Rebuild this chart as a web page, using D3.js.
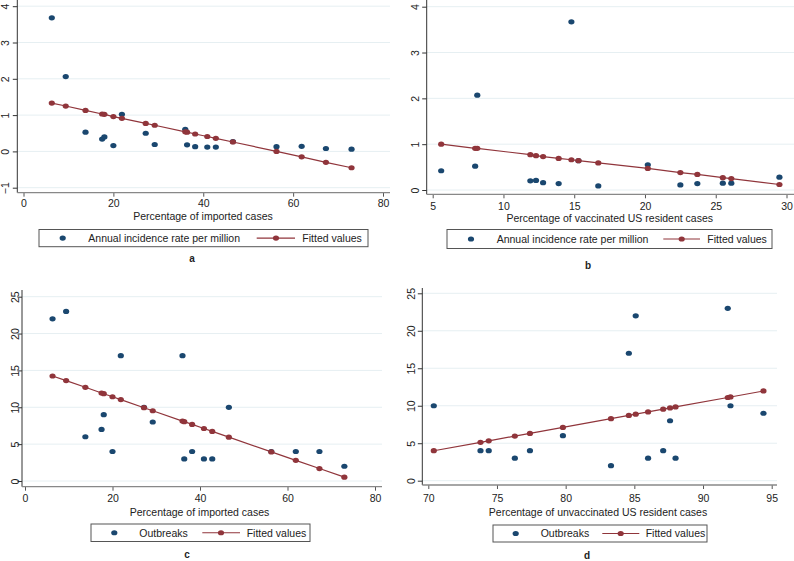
<!DOCTYPE html>
<html><head><meta charset="utf-8">
<script src="https://cdn.jsdelivr.net/npm/d3@7/dist/d3.min.js"></script>
<style>
html,body{margin:0;padding:0;background:#fff;}
svg{display:block;}
text{font-family:"Liberation Sans",Arial,Helvetica,sans-serif;fill:#222;}
</style></head>
<body>
<svg id="chart" width="794" height="561"></svg>
<script>
// ---------- data ----------
const importPct   = [6.3, 9.4, 13.8, 17.5, 18.0, 20.0, 21.9, 27.2, 29.2, 36.0, 36.4, 38.2, 40.9, 42.8, 46.6, 56.3, 61.9, 67.3, 73.0];
const incidenceA  = [3.68, 2.06, 0.53, 0.34, 0.40, 0.16, 1.02, 0.50, 0.19, 0.61, 0.18, 0.13, 0.12, 0.12, 0.27, 0.13, 0.14, 0.08, 0.06];
const fittedA     = [1.33, 1.25, 1.13, 1.03, 1.02, 0.96, 0.91, 0.77, 0.72, 0.54, 0.53, 0.48, 0.41, 0.36, 0.26, 0.00, -0.15, -0.30, -0.45];

const vaccPct     = [5.6, 8.0, 8.15, 11.9, 12.3, 12.8, 13.9, 14.8, 15.3, 16.7, 20.2, 22.5, 23.7, 25.5, 26.1, 29.5];
const incidenceB  = [0.42, 0.52, 2.07, 0.20, 0.21, 0.16, 0.14, 3.67, 0.64, 0.09, 0.55, 0.11, 0.14, 0.15, 0.15, 0.28];
const fittedB     = [1.00, 0.91, 0.91, 0.77, 0.75, 0.73, 0.69, 0.66, 0.64, 0.59, 0.47, 0.38, 0.34, 0.27, 0.25, 0.12];

const outbreaksC  = [22, 23, 6, 7, 9, 4, 17, 10, 8, 17, 3, 4, 3, 3, 10, 4, 4, 4, 2];
const fittedC     = [14.24, 13.62, 12.71, 11.94, 11.84, 11.43, 11.04, 9.94, 9.53, 8.13, 8.05, 7.68, 7.12, 6.73, 5.95, 3.95, 2.80, 1.69, 0.52];

const unvaccPct   = [70.4, 73.8, 74.4, 76.3, 77.4, 79.8, 83.3, 84.6, 85.1, 86.0, 87.1, 87.6, 88.0, 91.8, 92.0, 94.4];
const outbreaksD  = [10, 4, 4, 3, 4, 6, 2, 17, 22, 3, 4, 8, 3, 23, 10, 9];
const fittedD     = [4.00, 5.12, 5.32, 5.95, 6.31, 7.11, 8.28, 8.71, 8.87, 9.17, 9.54, 9.71, 9.84, 11.10, 11.17, 11.97];

const xTicksA = [0, 20, 40, 60, 80];
const yTicksA = [-1, 0, 1, 2, 3, 4];
const xTicksB = [5, 10, 15, 20, 25, 30];
const yTicksB = [0, 1, 2, 3, 4];
const xTicksC = [0, 20, 40, 60, 80];
const yTicksC = [0, 5, 10, 15, 20, 25];
const xTicksD = [70, 75, 80, 85, 90, 95];
const yTicksD = [0, 5, 10, 15, 20, 25];

const xTitles = ["Percentage of imported cases", "Percentage of vaccinated US resident cases",
                 "Percentage of imported cases", "Percentage of unvaccinated US resident cases"];
const seriesNames = ["Annual incidence rate per million", "Annual incidence rate per million", "Outbreaks", "Outbreaks"];
const fitName = "Fitted values";
const panelLabels = ["a", "b", "c", "d"];

// ---------- style ----------
const BLUE = "#1a476f", RED = "#90353b", GRID = "#e6eff2";
const FS = 10.5;

const svg = d3.select("#chart");

const panels = [
  {x: importPct, y: incidenceA, fit: fittedA, xt: xTicksA, yt: yTicksA,
   xd: [0, 80], xr: [23.5, 383], yd: [-1, 4], yr: [187.7, 6.2],
   axX: 17.3, axY: 192.7, top: 0, right: 390, yLab: 8.6, xLab: 207.3,
   title: [203, 220], leg: {x0: 39, x1: 368, y0: 229.5, y1: 246.7, m: 62.7, t: 88.3, l0: 256.7, l1: 295, lm: 276, ft: 302.3},
   lab: [192, 262]},
  {x: vaccPct, y: incidenceB, fit: fittedB, xt: xTicksB, yt: yTicksB,
   xd: [5, 30], xr: [432.7, 786.5], yd: [0, 4], yr: [190, 6.7],
   axX: 426.7, axY: 194.3, top: 0, right: 794, yLab: 419, xLab: 210,
   title: [609.7, 222], leg: {x0: 447, x1: 772, y0: 229.5, y1: 248.5, m: 471, t: 496.7, l0: 663.3, l1: 700, lm: 681.7, ft: 707.3},
   lab: [588, 268.5]},
  {x: importPct, y: outbreaksC, fit: fittedC, xt: xTicksC, yt: yTicksC,
   xd: [0, 80], xr: [25, 375], yd: [0, 25], yr: [481, 296.7],
   axX: 22, axY: 486.7, top: 290, right: 382, yLab: 19.3, xLab: 501.7,
   title: [199.5, 515.5], leg: {x0: 91, x1: 310, y0: 524, y1: 541.5, m: 114.3, t: 139.3, l0: 202.3, l1: 240, lm: 221, ft: 246.7},
   lab: [187, 558]},
  {x: unvaccPct, y: outbreaksD, fit: fittedD, xt: xTicksD, yt: yTicksD,
   xd: [70, 95], xr: [428.3, 771.7], yd: [0, 25], yr: [480.7, 293.3],
   axX: 422.3, axY: 485, top: 288, right: 777, yLab: 414.5, xLab: 501.7,
   title: [598, 515.5], leg: {x0: 493, x1: 707, y0: 525, y1: 542, m: 515.7, t: 540.7, l0: 602.3, l1: 639.3, lm: 620.7, ft: 645.7},
   lab: [587, 558.5]}
];

panels.forEach((p, i) => {
  const g = svg.append("g");
  const x = d3.scaleLinear().domain(p.xd).range(p.xr);
  const y = d3.scaleLinear().domain(p.yd).range(p.yr);

  // gridlines
  g.selectAll("line.grid").data(p.yt).join("line")
    .attr("x1", p.axX).attr("x2", p.right)
    .attr("y1", d => y(d)).attr("y2", d => y(d))
    .attr("stroke", GRID).attr("stroke-width", 1);

  // y axis
  const ya = g.append("g").attr("transform", `translate(${p.axX},0)`)
    .call(d3.axisLeft(y).tickValues(p.yt).tickSize(4.5).tickFormat(d3.format("d")));
  ya.select(".domain").remove();
  ya.selectAll(".tick line").attr("stroke", "#333");
  ya.selectAll(".tick text")
    .attr("transform", "rotate(-90)")
    .attr("x", 0).attr("dy", 0)
    .attr("y", -(p.axX - p.yLab))
    .attr("text-anchor", "middle")
    .style("font-size", FS + "px").style("font-family", "Liberation Sans, Arial, sans-serif").attr("fill", "#222");
  g.append("line").attr("x1", p.axX).attr("x2", p.axX).attr("y1", p.top).attr("y2", p.axY)
    .attr("stroke", "#333").attr("stroke-width", 1);

  // x axis
  const xa = g.append("g").attr("transform", `translate(0,${p.axY})`)
    .call(d3.axisBottom(x).tickValues(p.xt).tickSize(4).tickFormat(d3.format("d")));
  xa.select(".domain").remove();
  xa.selectAll(".tick line").attr("stroke", "#555");
  xa.selectAll(".tick text").attr("dy", 0).attr("y", p.xLab - p.axY)
    .style("font-size", FS + "px").style("font-family", "Liberation Sans, Arial, sans-serif").attr("fill", "#222");
  g.append("line").attr("x1", p.axX).attr("x2", p.right).attr("y1", p.axY).attr("y2", p.axY)
    .attr("stroke", "#888").attr("stroke-width", 1.3);

  // x title
  g.append("text").attr("x", p.title[0]).attr("y", p.title[1]).attr("text-anchor", "middle")
    .style("font-size", FS + "px").text(xTitles[i]);

  // scatter
  const pts = p.x.map((v, k) => ({x: v, y: p.y[k], f: p.fit[k]}));
  g.selectAll("ellipse.pt").data(pts).join("ellipse")
    .attr("cx", d => x(d.x)).attr("cy", d => y(d.y))
    .attr("rx", 3.1).attr("ry", 2.6).attr("fill", BLUE);

  // fitted line + markers
  const line = d3.line().x(d => x(d.x)).y(d => y(d.f));
  const sorted = pts.slice().sort((a, b) => a.x - b.x);
  g.append("path").attr("d", line(sorted)).attr("fill", "none").attr("stroke", RED).attr("stroke-width", 1.2);
  g.selectAll("ellipse.fit").data(pts).join("ellipse")
    .attr("cx", d => x(d.x)).attr("cy", d => y(d.f))
    .attr("rx", 3.1).attr("ry", 2.6).attr("fill", RED);

  // legend
  const L = p.leg, cy = (L.y0 + L.y1) / 2;
  g.append("rect").attr("x", L.x0).attr("y", L.y0).attr("width", L.x1 - L.x0).attr("height", L.y1 - L.y0)
    .attr("fill", "#fff").attr("stroke", "#555").attr("stroke-width", 1);
  g.append("ellipse").attr("cx", L.m).attr("cy", cy).attr("rx", 3.1).attr("ry", 2.6).attr("fill", BLUE);
  g.append("text").attr("x", L.t).attr("y", cy + 3.8).style("font-size", FS + "px").text(seriesNames[i]);
  g.append("line").attr("x1", L.l0).attr("x2", L.l1).attr("y1", cy).attr("y2", cy).attr("stroke", RED).attr("stroke-width", 1.2);
  g.append("ellipse").attr("cx", L.lm).attr("cy", cy).attr("rx", 3.1).attr("ry", 2.6).attr("fill", RED);
  g.append("text").attr("x", L.ft).attr("y", cy + 3.8).style("font-size", FS + "px").text(fitName);

  // panel letter
  g.append("text").attr("x", p.lab[0]).attr("y", p.lab[1]).attr("text-anchor", "middle")
    .style("font-size", "10px").style("font-weight", "bold").text(panelLabels[i]);
});
</script>
</body></html>
